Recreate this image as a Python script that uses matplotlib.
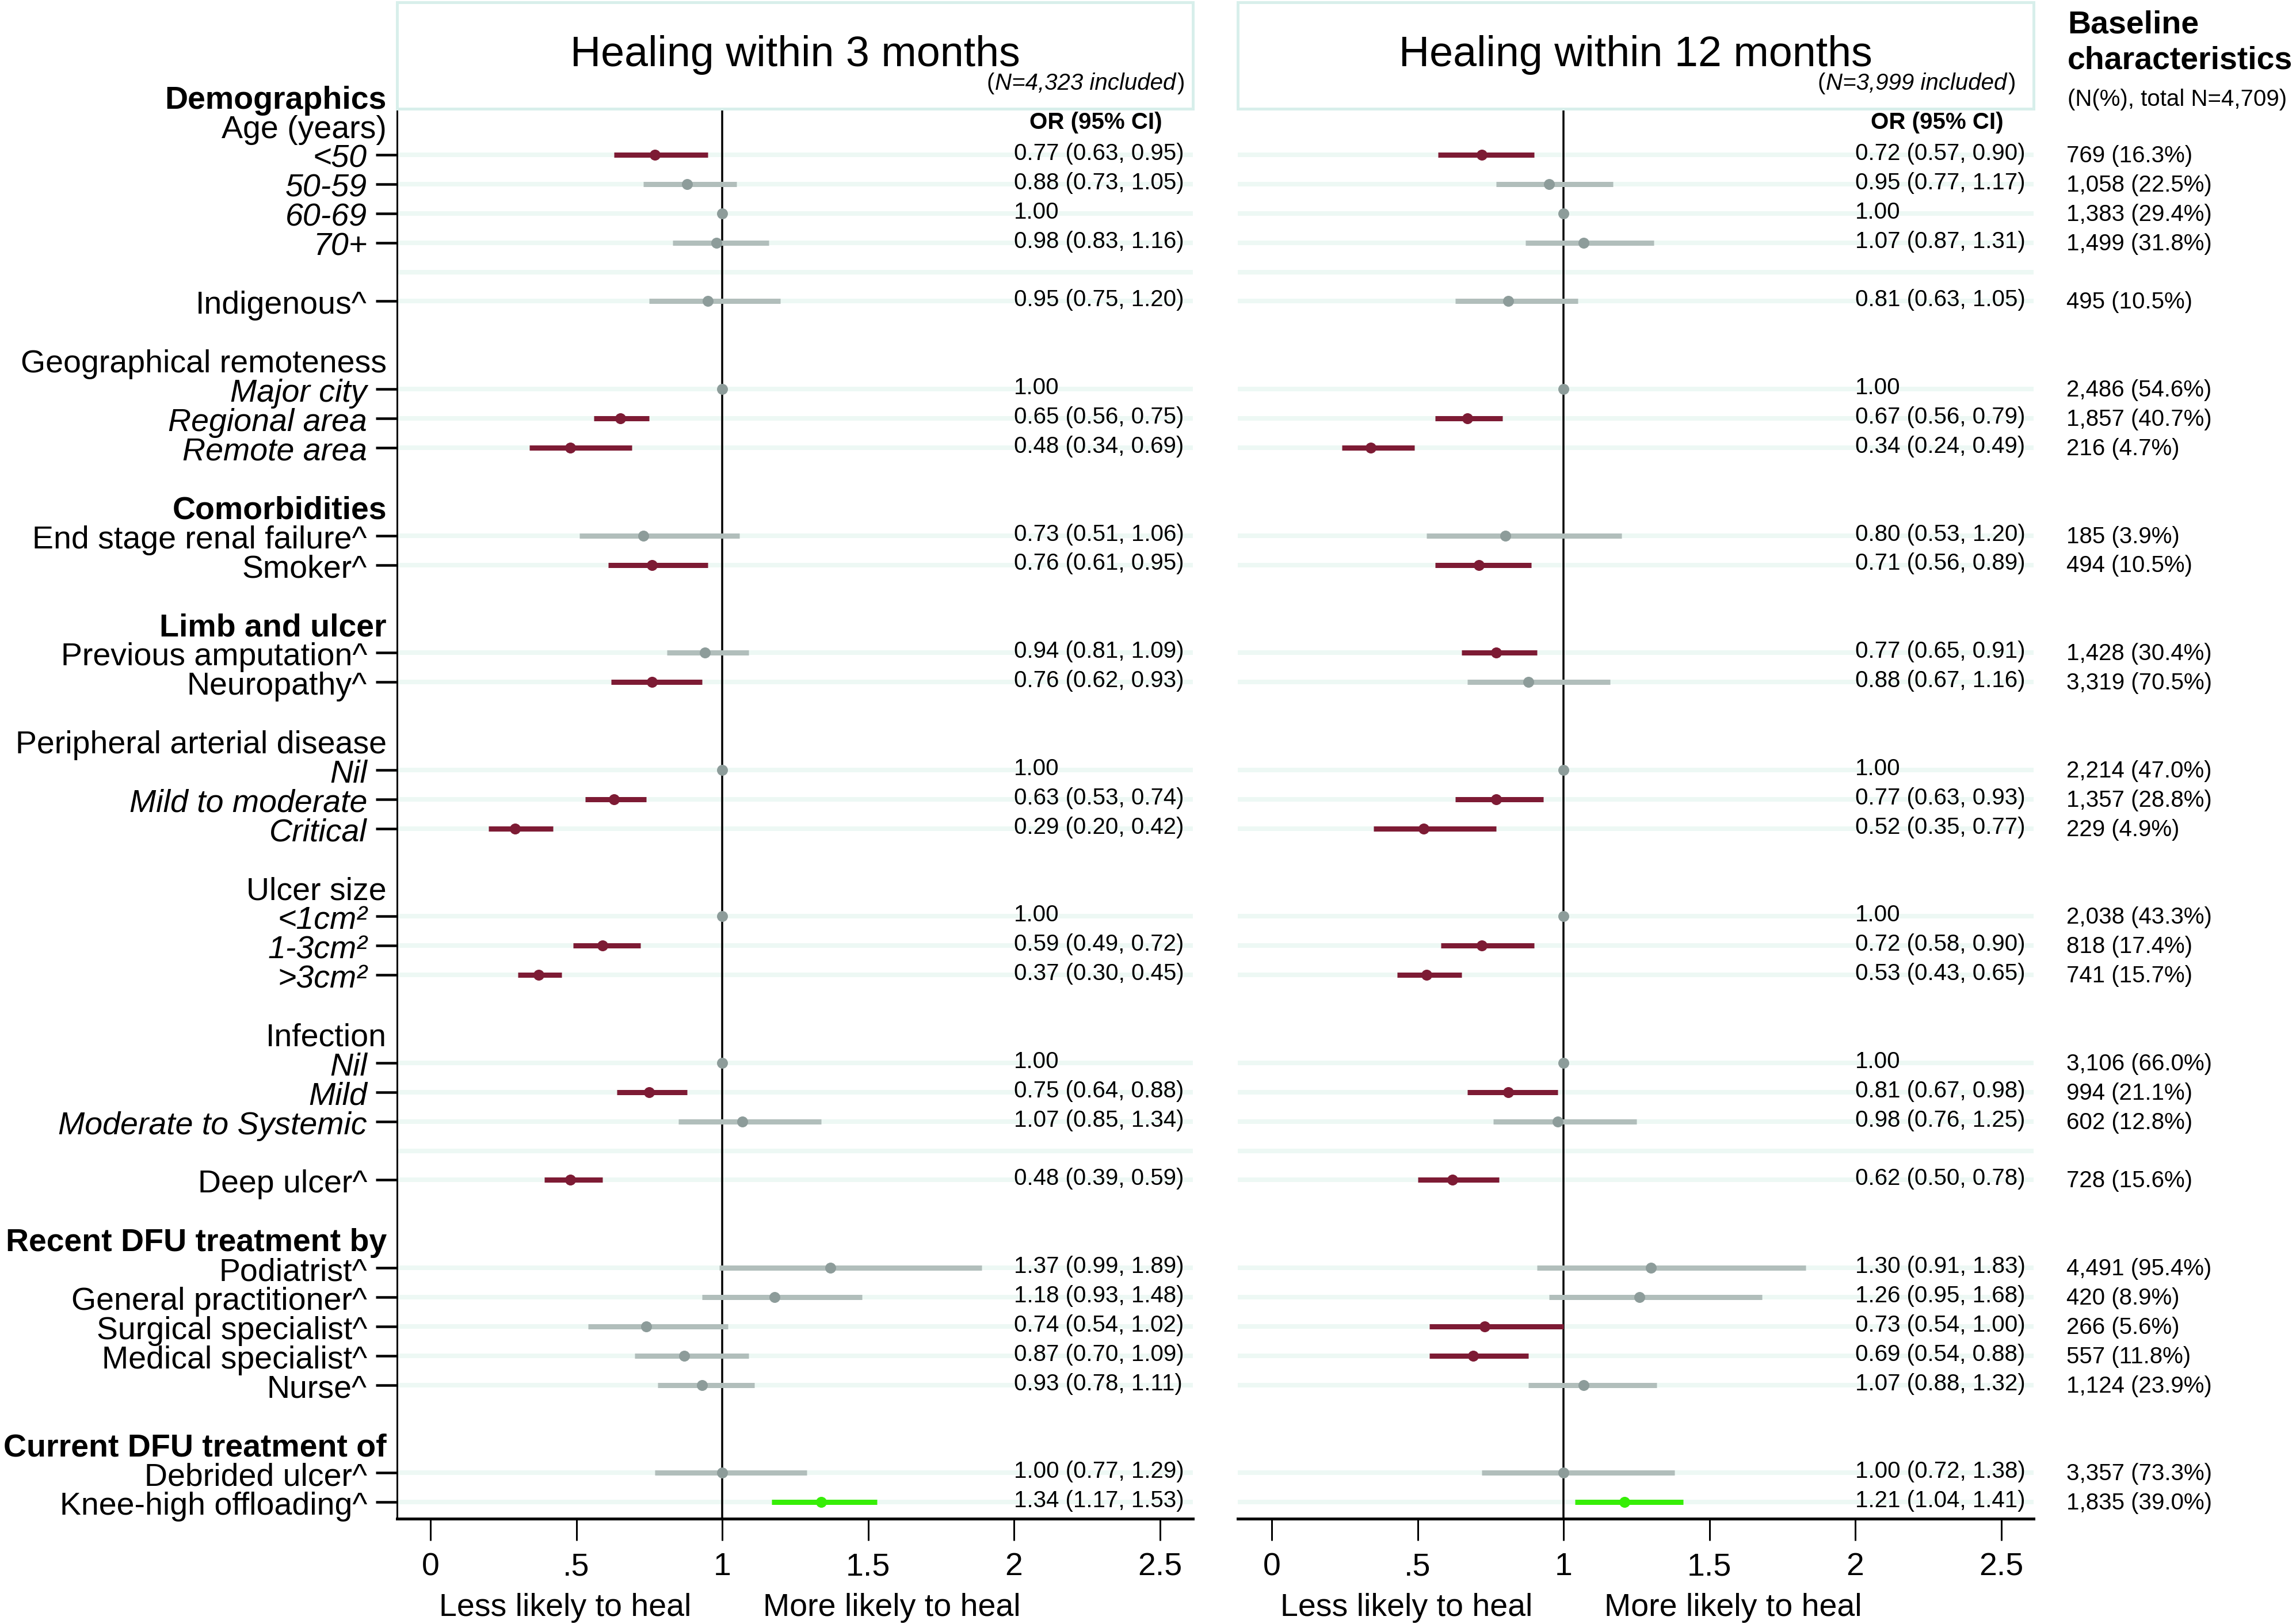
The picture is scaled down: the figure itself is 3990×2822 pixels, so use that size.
import numpy as np
import matplotlib
matplotlib.use("Agg")
import matplotlib.pyplot as plt
from matplotlib.patches import Rectangle

plt.rcParams['font.family'] = ['Liberation Sans', 'DejaVu Sans']

# ---------------- data ----------------
nan = np.nan
# row labels (first row is index -1) and kinds:
# B bold section, H sub-header, I italic data row, N normal data row, '' blank, L blank with guide line
row_labels = ["Demographics", "Age (years)", "<50", "50-59", "60-69", "70+", "", "Indigenous^", "",
              "Geographical remoteness", "Major city", "Regional area", "Remote area", "",
              "Comorbidities", "End stage renal failure^", "Smoker^", "",
              "Limb and ulcer", "Previous amputation^", "Neuropathy^", "",
              "Peripheral arterial disease", "Nil", "Mild to moderate", "Critical", "",
              "Ulcer size", "<1cm\u00b2", "1-3cm\u00b2", ">3cm\u00b2", "",
              "Infection", "Nil", "Mild", "Moderate to Systemic", "",
              "Deep ulcer^", "",
              "Recent DFU treatment by", "Podiatrist^", "General practitioner^", "Surgical specialist^",
              "Medical specialist^", "Nurse^", "",
              "Current DFU treatment of", "Debrided ulcer^", "Knee-high offloading^"]
row_kinds = ["B", "H", "I", "I", "I", "I", "L", "N", "",
             "H", "I", "I", "I", "",
             "B", "N", "N", "",
             "B", "N", "N", "",
             "H", "I", "I", "I", "",
             "H", "I", "I", "I", "",
             "H", "I", "I", "I", "L",
             "N", "",
             "B", "N", "N", "N", "N", "N", "",
             "B", "N", "N"]

# values for the data rows, in order
or3 = [0.77, 0.88, 1.00, 0.98, 0.95, 1.00, 0.65, 0.48, 0.73, 0.76, 0.94, 0.76, 1.00, 0.63, 0.29,
       1.00, 0.59, 0.37, 1.00, 0.75, 1.07, 0.48, 1.37, 1.18, 0.74, 0.87, 0.93, 1.00, 1.34]
lo3 = [0.63, 0.73, nan, 0.83, 0.75, nan, 0.56, 0.34, 0.51, 0.61, 0.81, 0.62, nan, 0.53, 0.20,
       nan, 0.49, 0.30, nan, 0.64, 0.85, 0.39, 0.99, 0.93, 0.54, 0.70, 0.78, 0.77, 1.17]
hi3 = [0.95, 1.05, nan, 1.16, 1.20, nan, 0.75, 0.69, 1.06, 0.95, 1.09, 0.93, nan, 0.74, 0.42,
       nan, 0.72, 0.45, nan, 0.88, 1.34, 0.59, 1.89, 1.48, 1.02, 1.09, 1.11, 1.29, 1.53]

or12 = [0.72, 0.95, 1.00, 1.07, 0.81, 1.00, 0.67, 0.34, 0.80, 0.71, 0.77, 0.88, 1.00, 0.77, 0.52,
        1.00, 0.72, 0.53, 1.00, 0.81, 0.98, 0.62, 1.30, 1.26, 0.73, 0.69, 1.07, 1.00, 1.21]
lo12 = [0.57, 0.77, nan, 0.87, 0.63, nan, 0.56, 0.24, 0.53, 0.56, 0.65, 0.67, nan, 0.63, 0.35,
        nan, 0.58, 0.43, nan, 0.67, 0.76, 0.50, 0.91, 0.95, 0.54, 0.54, 0.88, 0.72, 1.04]
hi12 = [0.90, 1.17, nan, 1.31, 1.05, nan, 0.79, 0.49, 1.20, 0.89, 0.91, 1.16, nan, 0.93, 0.77,
        nan, 0.90, 0.65, nan, 0.98, 1.25, 0.78, 1.83, 1.68, 1.00, 0.88, 1.32, 1.38, 1.41]

base_n = [769, 1058, 1383, 1499, 495, 2486, 1857, 216, 185, 494, 1428, 3319, 2214, 1357, 229,
          2038, 818, 741, 3106, 994, 602, 728, 4491, 420, 266, 557, 1124, 3357, 1835]
base_pct = [16.3, 22.5, 29.4, 31.8, 10.5, 54.6, 40.7, 4.7, 3.9, 10.5, 30.4, 70.5, 47.0, 28.8, 4.9,
            43.3, 17.4, 15.7, 66.0, 21.1, 12.8, 15.6, 95.4, 8.9, 5.6, 11.8, 23.9, 73.3, 39.0]

panel_titles = ["Healing within 3 months", "Healing within 12 months"]
panel_n = ["N=4,323 included", "N=3,999 included"]
xtick_vals = [0, 0.5, 1, 1.5, 2, 2.5]
xtick_labels = ["0", ".5", "1", "1.5", "2", "2.5"]

# ---------------- style ----------------
MAROON = '#7D1B34'
GREEN = '#36EE06'
GRAY_BAR = '#B1BEBB'
GRAY_DOT = '#8D9C9A'
LINE_C = '#EDF8F4'
BOX_C = '#D8EFEB'

W, H = 3990, 2822
DPI = 100
fig = plt.figure(figsize=(W / DPI, H / DPI), dpi=DPI)
fig.patch.set_facecolor('white')


def pt(p):
    return p * 72.0 / DPI


ROW0 = 218.0
ROWPX = 50.9
AX_TOP, AX_BOT = 190, 2639
UNIT = 507.0
panels = [(690, 2073, 748), (2151, 3534, 2210)]

rows = np.arange(-1, len(row_labels) - 1)
data_rows = [r for r, k in zip(rows, row_kinds) if k in ("I", "N")]
line_rows = [r for r, k in zip(rows, row_kinds) if k in ("I", "N", "L")]

BIG = 40
SMALL = 29


def colours(o, lo, hi):
    if np.isnan(hi):
        return GRAY_BAR, GRAY_DOT
    if hi <= 1.0:
        return MAROON, MAROON
    if lo > 1.0:
        return GREEN, GREEN
    return GRAY_BAR, GRAY_DOT


renderer = fig.canvas.get_renderer()

series = [(or3, lo3, hi3), (or12, lo12, hi12)]
axes = []
for p, (l, r, x0) in enumerate(panels):
    ax = fig.add_axes([l / W, (H - AX_BOT) / H, (r - l) / W, (AX_BOT - AX_TOP) / H])
    axes.append(ax)
    ax.set_xlim((l - x0) / UNIT, (r - x0) / UNIT)
    ax.set_ylim((AX_BOT - ROW0) / ROWPX, (AX_TOP - ROW0) / ROWPX)
    for y in line_rows:
        ax.axhline(y, color=LINE_C, lw=pt(8), zorder=0)
    ax.axvline(1, color='black', lw=pt(3.5), zorder=1)
    o_s, lo_s, hi_s = series[p]
    for y, o, lo, hi in zip(data_rows, o_s, lo_s, hi_s):
        bc, mc = colours(o, lo, hi)
        if not np.isnan(lo):
            ax.plot([lo, hi], [y, y], color=bc, lw=pt(9), solid_capstyle='butt', zorder=2)
            txt = f"{o:.2f} ({lo:.2f}, {hi:.2f})"
        else:
            txt = f"{o:.2f}"
        ax.plot([o], [y], 'o', ms=pt(19), color=mc, mec=mc, mew=0, zorder=3)
        ax.text(2.0, y + 9 / ROWPX, txt, ha='left', va='baseline', fontsize=SMALL, clip_on=False, zorder=4)
    ax.text(2.28, (224 - ROW0) / ROWPX, "OR (95% CI)", ha='center', va='baseline',
            fontsize=SMALL, fontweight='bold', clip_on=False)

    # x axis
    ax.set_xticks(xtick_vals)
    ax.set_xticklabels(xtick_labels, fontsize=BIG)
    ax.tick_params(axis='x', length=pt(38), width=pt(3), pad=pt(20), direction='out')
    for s in ('top', 'right'):
        ax.spines[s].set_visible(False)
    ax.spines['bottom'].set_linewidth(pt(5))
    ax.text(0.895, (2808 - ROW0) / ROWPX, "Less likely to heal", ha='right', va='baseline',
            fontsize=BIG, clip_on=False)
    ax.text(1.14, (2808 - ROW0) / ROWPX, "More likely to heal", ha='left', va='baseline',
            fontsize=BIG, clip_on=False)

    # header box
    fig.add_artist(Rectangle((l / W, (H - 189) / H), (r - l) / W, 185 / H, fill=False,
                             ec=BOX_C, lw=pt(5), transform=fig.transFigure))
    fig.text((l + r) / 2 / W, 1 - 115 / H, panel_titles[p], ha='center', va='baseline', fontsize=53)
    # "(N=... included)" with upright parentheses and italic inner text
    nx = [2059, 3503][p]
    ny = 1 - 156 / H
    t_close = fig.text(nx / W, ny, ")", ha='right', va='baseline', fontsize=SMALL)
    bb = t_close.get_window_extent(renderer)
    t_mid = fig.text((bb.x0 - 2) / W, ny, panel_n[p], ha='right', va='baseline', fontsize=SMALL,
                     style='italic')
    bb2 = t_mid.get_window_extent(renderer)
    fig.text((bb2.x0 - 1) / W, ny, "(", ha='right', va='baseline', fontsize=SMALL)

ax1, ax2 = axes
ax1.spines['left'].set_linewidth(pt(3))
ax1.set_yticks(data_rows)
ax1.set_yticklabels([])
ax1.tick_params(axis='y', length=pt(37), width=pt(4.5), direction='out')
ax2.spines['left'].set_visible(False)
ax2.set_yticks([])

# row labels
x0_1 = panels[0][2]
for y, lab, k in zip(rows, row_labels, row_kinds):
    if not lab:
        continue
    if k in ("I", "N"):
        xr = (638 - x0_1) / UNIT
    else:
        xr = (672 - x0_1) / UNIT
    kw = dict(ha='right', va='baseline', fontsize=BIG, clip_on=False)
    if k == "B":
        kw['fontweight'] = 'bold'
    if k == "I":
        kw['style'] = 'italic'
    ax1.text(xr, y + 22 / ROWPX, lab, **kw)

# baseline characteristics column
x0_2 = panels[1][2]
for y, n, pc in zip(data_rows, base_n, base_pct):
    ax2.text((3591 - x0_2) / UNIT, y + 13 / ROWPX, f"{n:,} ({pc:.1f}%)", ha='left', va='baseline',
             fontsize=SMALL, clip_on=False)
fig.text(3593 / W, 1 - 57 / H, "Baseline", ha='left', va='baseline', fontsize=BIG, fontweight='bold')
fig.text(3593 / W, 1 - 119 / H, "characteristics", ha='left', va='baseline', fontsize=BIG, fontweight='bold')
fig.text(3593 / W, 1 - 184 / H, "(N(%), total N=4,709)", ha='left', va='baseline', fontsize=SMALL)

fig.savefig("out.png", dpi=DPI, facecolor='white')
